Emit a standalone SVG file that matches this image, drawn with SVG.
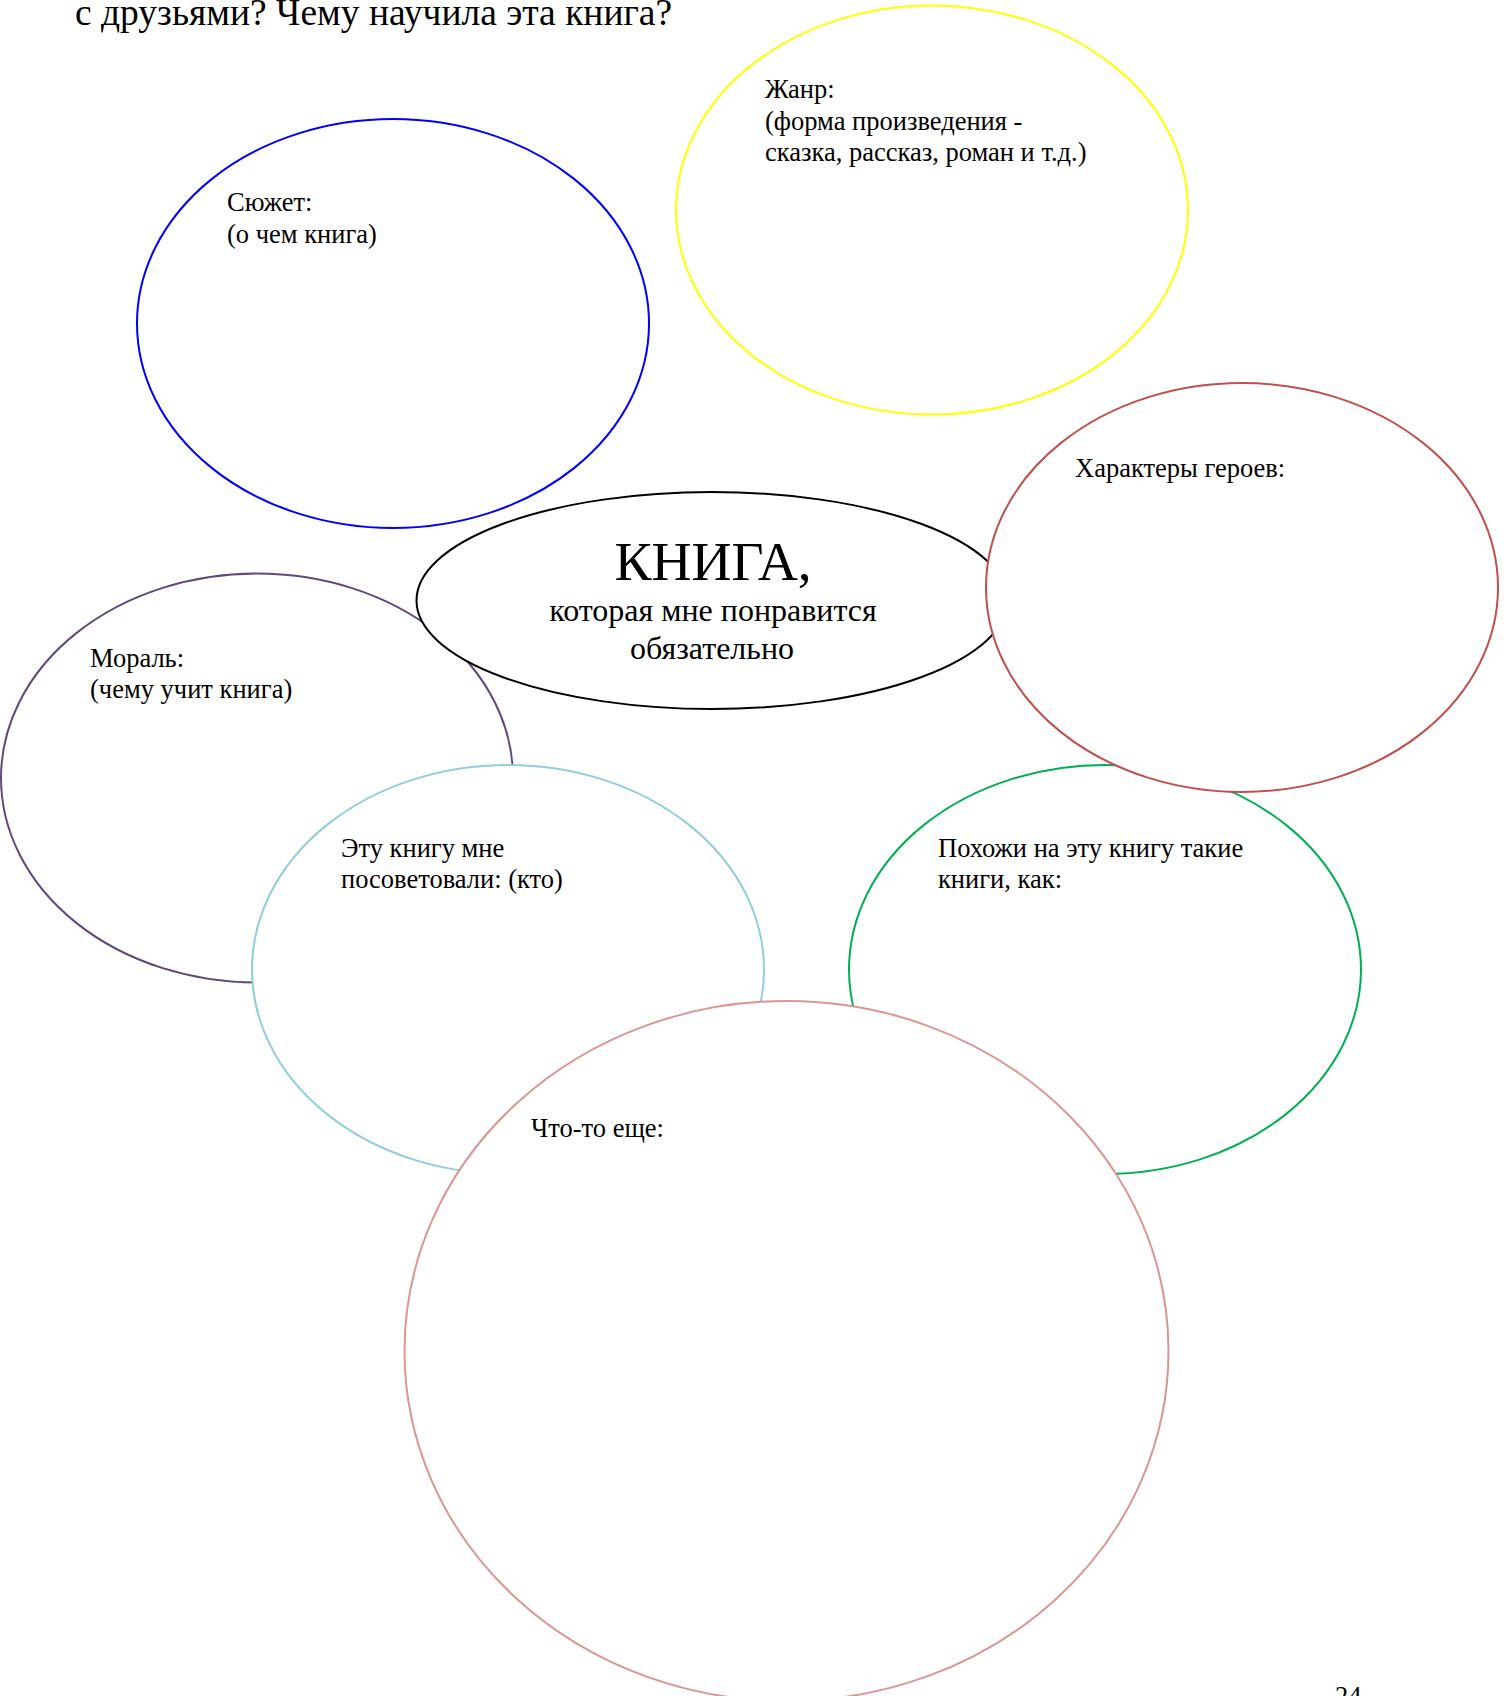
<svg xmlns="http://www.w3.org/2000/svg" width="1509" height="1696" viewBox="0 0 1509 1696">
<style>
.e{fill:#fff;stroke-width:2}
.t{font-family:"Liberation Serif","Times New Roman",serif;font-size:26.5px;fill:#000}
.h{font-family:"Liberation Serif","Times New Roman",serif;font-size:37.5px;fill:#000}
.c{font-family:"Liberation Serif","Times New Roman",serif;fill:#000;text-anchor:middle}
</style>
<rect width="1509" height="1696" fill="#fff"/>
<text class="h" x="75" y="25">с друзьями? Чему научила эта книга?</text>
<g id="plot">
<ellipse class="e" cx="393" cy="323.5" rx="256" ry="204.5" stroke="#0000FF"/>
<text class="t" x="227" y="211">Сюжет:</text>
<text class="t" x="227" y="243">(о чем книга)</text>
</g>
<g id="genre">
<ellipse class="e" cx="932" cy="210" rx="256" ry="204.5" stroke="#FFFF00"/>
<text class="t" x="765" y="98">Жанр:</text>
<text class="t" x="765" y="130">(форма произведения -</text>
<text class="t" x="765" y="161">сказка, рассказ, роман и т.д.)</text>
</g>
<g id="moral">
<ellipse class="e" cx="257" cy="778" rx="256" ry="204.5" stroke="#5F497A"/>
<text class="t" x="90" y="667">Мораль:</text>
<text class="t" x="90" y="698">(чему учит книга)</text>
</g>
<g id="book">
<ellipse class="e" cx="712" cy="600.5" rx="295.5" ry="108.5" stroke="#000"/>
<text class="c" x="713" y="580" font-size="55.5">КНИГА,</text>
<text class="c" x="713" y="621" font-size="32">которая мне понравится</text>
<text class="c" x="712" y="659" font-size="32">обязательно</text>
</g>
<g id="similar">
<ellipse class="e" cx="1105" cy="969.5" rx="256" ry="204.5" stroke="#00B050"/>
<text class="t" x="938" y="857">Похожи на эту книгу такие</text>
<text class="t" x="938" y="888">книги, как:</text>
</g>
<g id="heroes">
<ellipse class="e" cx="1242" cy="587.5" rx="256" ry="204.5" stroke="#C0504D"/>
<text class="t" x="1075" y="477">Характеры героев:</text>
</g>
<g id="advised">
<ellipse class="e" cx="508" cy="969.5" rx="256" ry="204.5" stroke="#92CDDC"/>
<text class="t" x="341" y="857">Эту книгу мне</text>
<text class="t" x="341" y="888">посоветовали: (кто)</text>
</g>
<g id="other">
<ellipse class="e" cx="786.5" cy="1351" rx="382" ry="350" stroke="#D99694"/>
<text class="t" x="531" y="1137">Что-то еще:</text>
</g>
<g id="connectors"></g>
<text class="t" x="1335" y="1705">24</text>
</svg>
